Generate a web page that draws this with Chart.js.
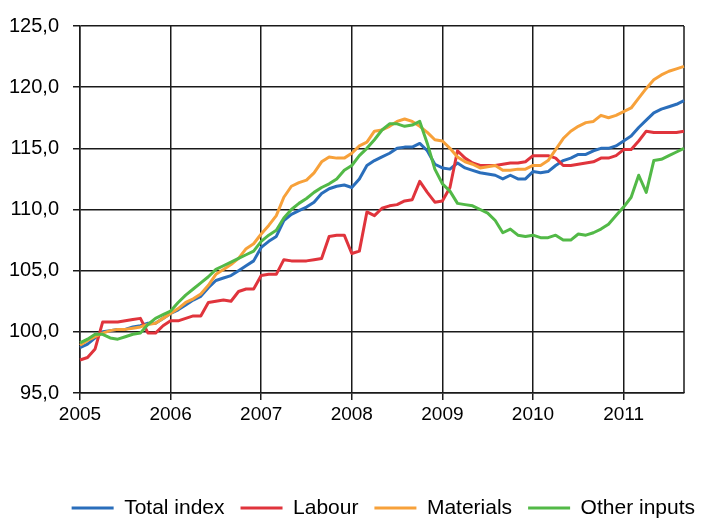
<!DOCTYPE html>
<html>
<head>
<meta charset="utf-8">
<script src="https://cdn.jsdelivr.net/npm/chart.js@4.4.1/dist/chart.umd.min.js"></script>
<style>
  html, body { margin: 0; padding: 0; background: #fff; }
  #wrap { width: 711px; height: 518px; }
</style>
</head>
<body>
<div id="wrap"><canvas id="chart"></canvas></div>
<script>
// Monthly index values, Jan 2005 .. Sep 2011
const years = ['2005', '2006', '2007', '2008', '2009', '2010', '2011'];
const monthCount = 81;
const yTicks = [95, 100, 105, 110, 115, 120, 125];

const totalIndex = [
  98.7, 99.0, 99.5, 100.0, 100.1, 100.2, 100.2, 100.4, 100.5, 100.7, 100.7, 101.1,
  101.5, 101.8, 102.2, 102.6, 102.9, 103.6, 104.2, 104.4, 104.6, 105.0, 105.4, 105.8,
  106.9, 107.4, 107.8, 109.1, 109.6, 109.9, 110.2, 110.6, 111.3, 111.7, 111.9, 112.0,
  111.8, 112.5, 113.6, 114.0, 114.3, 114.6, 115.0, 115.1, 115.1, 115.4, 114.8, 113.7,
  113.4, 113.3, 113.8, 113.4, 113.2, 113.0, 112.9, 112.8, 112.5, 112.8, 112.5, 112.5,
  113.1, 113.0, 113.1, 113.6, 114.0, 114.2, 114.5, 114.5, 114.8, 115.0, 115.0, 115.2,
  115.6, 116.0, 116.7, 117.3, 117.9, 118.2, 118.4, 118.6, 118.9
];
const labour = [
  97.7, 97.9, 98.6, 100.8, 100.8, 100.8, 100.9, 101.0, 101.1, 99.9, 99.9, 100.5,
  100.9, 100.9, 101.1, 101.3, 101.3, 102.4, 102.5, 102.6, 102.5, 103.3, 103.5, 103.5,
  104.6, 104.7, 104.7, 105.9, 105.8, 105.8, 105.8, 105.9, 106.0, 107.8, 107.9, 107.9,
  106.4, 106.6, 109.8, 109.5, 110.1, 110.3, 110.4, 110.7, 110.8, 112.3, 111.4, 110.6,
  110.7, 111.8, 114.8, 114.2, 113.8, 113.6, 113.6, 113.6, 113.7, 113.8, 113.8, 113.9,
  114.4, 114.4, 114.4, 114.2, 113.6, 113.6, 113.7, 113.8, 113.9, 114.2, 114.2, 114.4,
  114.9, 114.9, 115.6, 116.4, 116.3, 116.3, 116.3, 116.3, 116.4
];
const materials = [
  98.9, 99.3, 99.6, 99.9, 100.1, 100.2, 100.2, 100.3, 100.4, 100.6, 100.7, 101.1,
  101.5, 101.9, 102.4, 102.7, 103.1, 103.8, 104.7, 105.1, 105.5, 106.0, 106.8, 107.2,
  108.0, 108.7, 109.5, 111.0, 111.9, 112.2, 112.4, 113.0, 113.9, 114.3, 114.2, 114.2,
  114.6, 115.2, 115.5, 116.4, 116.5, 116.8, 117.2, 117.4, 117.2, 116.8, 116.3, 115.7,
  115.6, 115.0, 114.3, 113.9, 113.7, 113.4, 113.5, 113.6, 113.2, 113.2, 113.3, 113.3,
  113.6, 113.6, 114.0, 114.9, 115.8, 116.4, 116.8, 117.1, 117.2, 117.7, 117.5, 117.7,
  118.0, 118.3, 119.1, 119.9, 120.6, 121.0, 121.3, 121.5, 121.7
];
const otherInputs = [
  99.1, 99.4, 99.8, 99.8, 99.5, 99.4, 99.6, 99.8, 99.9, 100.6, 101.1, 101.4,
  101.7, 102.4, 103.0, 103.5, 104.0, 104.5, 105.1, 105.4, 105.7, 106.0, 106.3, 106.6,
  107.4, 107.9, 108.3, 109.3, 110.0, 110.5, 110.9, 111.4, 111.8, 112.1, 112.5, 113.2,
  113.6, 114.4, 115.0, 115.7, 116.5, 117.0, 117.0, 116.8, 116.9, 117.2, 115.4, 113.3,
  112.1, 111.5, 110.5, 110.4, 110.3, 110.0, 109.7, 109.1, 108.1, 108.4, 107.9, 107.8,
  107.9, 107.7, 107.7, 107.9, 107.5, 107.5, 108.0, 107.9, 108.1, 108.4, 108.8, 109.5,
  110.2, 111.0, 112.8, 111.4, 114.0, 114.1, 114.4, 114.7, 115.0
];

// month labels "YYYY-MM"
const labels = [];
years.forEach(y => {
  for (let m = 1; m <= 12; m++) {
    labels.push(y + '-' + String(m).padStart(2, '0'));
  }
});
labels.length = monthCount;

const FONT = "'Liberation Sans', Arial, sans-serif";

// right-hand frame line of the plot area
const frameRight = {
  id: 'frameRight',
  beforeDatasetsDraw(chart) {
    const { ctx, chartArea } = chart;
    ctx.save();
    ctx.strokeStyle = '#1a1a1a';
    ctx.lineWidth = 1.5;
    ctx.beginPath();
    ctx.moveTo(chartArea.right, chartArea.top);
    ctx.lineTo(chartArea.right, chartArea.bottom);
    ctx.stroke();
    ctx.restore();
  }
};

function line(label, data, color, order) {
  return {
    label: label,
    data: data,
    borderColor: color,
    backgroundColor: color,
    borderWidth: 3,
    pointRadius: 0,
    tension: 0,
    borderJoinStyle: 'round',
    order: order
  };
}

new Chart(document.getElementById('chart'), {
  type: 'line',
  data: {
    labels: labels,
    datasets: [
      line('Total index', totalIndex, '#2a6ebb', 3),
      line('Labour', labour, '#e0343c', 2),
      line('Materials', materials, '#f7a13a', 1),
      line('Other inputs', otherInputs, '#52b947', 0)
    ]
  },
  options: {
    responsive: true,
    maintainAspectRatio: false,
    animation: false,
    // negative bottom padding lets the legend sit lower
    layout: { padding: { top: 22, right: 0, left: 0, bottom: -10.5 } },
    plugins: {
      legend: {
        position: 'bottom',
        align: 'end',
        reverse: true,
        labels: {
          color: '#000',
          font: { family: FONT, size: 21, lineHeight: 1 },
          usePointStyle: true,
          pointStyle: 'line',
          pointStyleWidth: 42,
          boxHeight: 3,
          padding: 16
        }
      },
      tooltip: { enabled: false }
    },
    scales: {
      x: {
        offset: false,
        grid: { color: '#1a1a1a', lineWidth: 1.5, tickLength: 7 },
        border: { color: '#1a1a1a', width: 1.5 },
        ticks: {
          autoSkip: false,
          maxRotation: 0,
          padding: 5,
          color: '#000',
          font: { family: FONT, size: 19, lineHeight: 1 },
          callback: function (value) {
            const lab = labels[value];
            return lab.endsWith('-01') ? lab.slice(0, 4) : null;
          }
        },
        afterFit: function (scale) { scale.height = 88.5; }
      },
      y: {
        min: yTicks[0],
        max: yTicks[yTicks.length - 1],
        grid: { color: '#1a1a1a', lineWidth: 1.5, tickLength: 7 },
        border: { color: '#1a1a1a', width: 1.5 },
        afterBuildTicks: function (scale) {
          scale.ticks = yTicks.map(v => ({ value: v }));
        },
        ticks: {
          padding: 14,
          color: '#000',
          font: { family: FONT, size: 20 },
          callback: v => v.toFixed(1).replace('.', ',')
        },
        afterFit: function (scale) { scale.width = 80; }
      },
      // empty spacer on the right so the legend can use the full width
      spacer: {
        type: 'linear',
        position: 'right',
        display: true,
        grid: { display: false },
        border: { display: false },
        ticks: { display: false },
        afterFit: function (scale) { scale.width = 27; }
      }
    }
  },
  plugins: [frameRight]
});
</script>
</body>
</html>
